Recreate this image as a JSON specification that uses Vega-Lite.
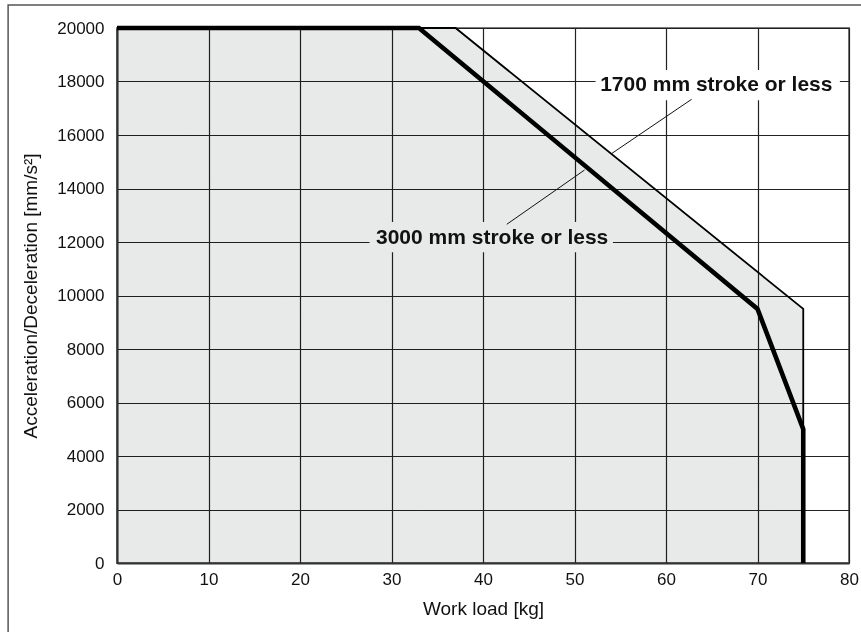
{
  "$schema": "https://vega.github.io/schema/vega-lite/v6.json",
  "width": 732,
  "height": 535,
  "autosize": {"type": "none"},
  "padding": {"left": 117, "top": 28, "right": 12, "bottom": 69},
  "background": "white",
  "config": {
    "font": "Liberation Sans",
    "view": {"stroke": "#7a7a7a", "strokeWidth": 2},
    "axis": {
      "grid": true,
      "gridColor": "#222222",
      "gridWidth": 1.2,
      "gridOpacity": 1,
      "ticks": false,
      "labelFlush": false,
      "domainColor": "#333333",
      "domainWidth": 2,
      "labelColor": "#111111",
      "labelFontSize": 17,
      "titleFontSize": 19,
      "titleFontWeight": "normal",
      "titleColor": "#111111"
    }
  },
  "datasets": {
    "env1700": [
      {"x": 0, "y": 20000, "i": 1},
      {"x": 37, "y": 20000, "i": 2},
      {"x": 75, "y": 9500, "i": 3},
      {"x": 75, "y": 0, "i": 4}
    ],
    "env3000": [
      {"x": 0, "y": 20000, "i": 1},
      {"x": 33, "y": 20000, "i": 2},
      {"x": 70, "y": 9500, "i": 3},
      {"x": 75, "y": 5000, "i": 4},
      {"x": 75, "y": 0, "i": 5}
    ],
    "leaders": [
      {"x": 62.8, "y": 17335, "x2": 54.1, "y2": 15316},
      {"x": 51.1, "y": 14692, "x2": 42.6, "y2": 12662}
    ],
    "labels": [
      {"label": "1700 mm stroke or less", "x": 65.5, "y": 17870, "xmin": 52.3, "xmax": 79.0, "ymin": 17300, "ymax": 18430},
      {"label": "3000 mm stroke or less", "x": 41.0, "y": 12150, "xmin": 27.6, "xmax": 54.2, "ymin": 11620, "ymax": 12750}
    ]
  },
  "layer": [
    {
      "data": {"name": "env1700"},
      "transform": [{"filter": "datum.i <= 3"}],
      "mark": {"type": "area", "color": "#e8e9e9", "blend": "multiply", "opacity": 1},
      "encoding": {
        "x": {
          "field": "x", "type": "quantitative",
          "scale": {"domain": [0, 80], "nice": false},
          "axis": {"values": [0, 10, 20, 30, 40, 50, 60, 70, 80], "title": "Work load [kg]", "labelPadding": 8, "titlePadding": 12}
        },
        "y": {
          "field": "y", "type": "quantitative",
          "scale": {"domain": [0, 20000], "nice": false},
          "axis": {"values": [0, 2000, 4000, 6000, 8000, 10000, 12000, 14000, 16000, 18000, 20000], "format": "d", "title": "Acceleration/Deceleration [mm/s²]", "labelPadding": 13, "titlePadding": 16}
        },
        "order": {"field": "i"}
      }
    },
    {
      "data": {"name": "labels"},
      "mark": {"type": "rect", "stroke": null},
      "encoding": {
        "x": {"field": "xmin", "type": "quantitative"},
        "x2": {"field": "xmax"},
        "y": {"field": "ymax", "type": "quantitative"},
        "y2": {"field": "ymin"},
        "fill": {"condition": {"test": "datum.label === '1700 mm stroke or less'", "value": "#ffffff"}, "value": "#e8e9e9"}
      }
    },
    {
      "data": {"name": "leaders"},
      "mark": {"type": "rule", "color": "#111111", "strokeWidth": 1},
      "encoding": {
        "x": {"field": "x", "type": "quantitative"},
        "y": {"field": "y", "type": "quantitative"},
        "x2": {"field": "x2"},
        "y2": {"field": "y2"}
      }
    },
    {
      "data": {"name": "env1700"},
      "mark": {"type": "line", "color": "#000000", "strokeWidth": 1.8},
      "encoding": {
        "x": {"field": "x", "type": "quantitative"},
        "y": {"field": "y", "type": "quantitative"},
        "order": {"field": "i"}
      }
    },
    {
      "data": {"name": "env3000"},
      "mark": {"type": "line", "color": "#000000", "strokeWidth": 4.6},
      "encoding": {
        "x": {"field": "x", "type": "quantitative"},
        "y": {"field": "y", "type": "quantitative"},
        "order": {"field": "i"}
      }
    },
    {
      "data": {"name": "labels"},
      "mark": {"type": "text", "fontSize": 21, "fontWeight": "bold", "align": "center", "baseline": "middle", "color": "#111111"},
      "encoding": {
        "x": {"field": "x", "type": "quantitative"},
        "y": {"field": "y", "type": "quantitative"},
        "text": {"field": "label"}
      }
    },
    {
      "data": {"values": [{}]},
      "mark": {"type": "rect", "fill": null, "filled": false, "stroke": "#555555", "strokeWidth": 1.5},
      "encoding": {
        "x": {"datum": -11.9},
        "x2": {"datum": 95},
        "y": {"datum": 20860},
        "y2": {"datum": -4000}
      }
    }
  ]
}
